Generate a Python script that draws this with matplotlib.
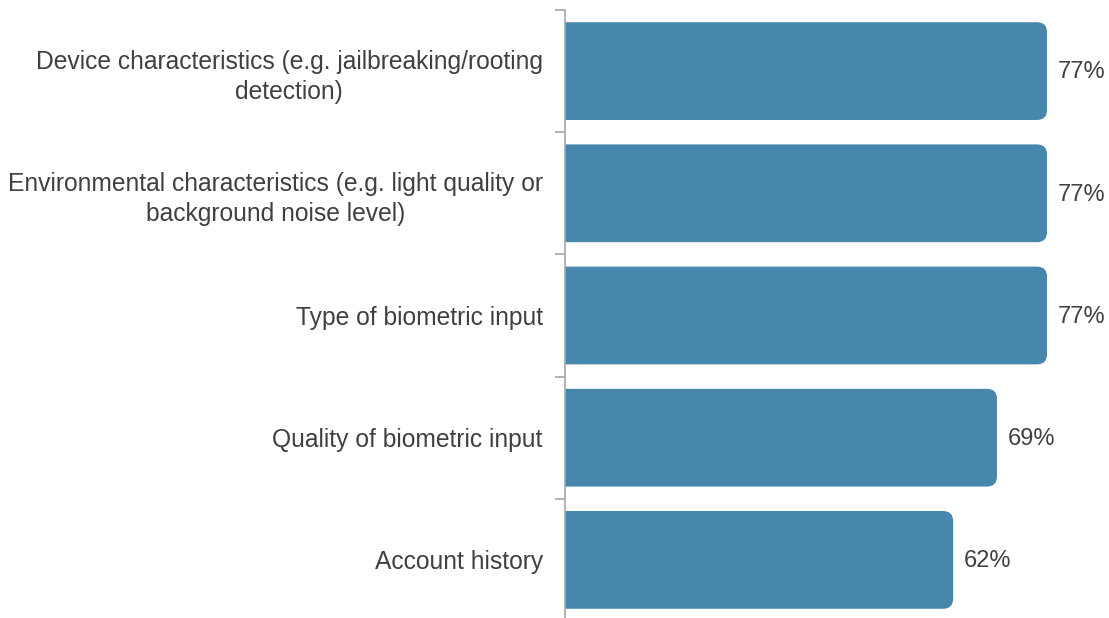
import numpy as np
import matplotlib.pyplot as plt
from matplotlib.patches import FancyBboxPatch

plt.rcParams['font.family'] = ['Liberation Sans', 'DejaVu Sans']

categories = ["Device characteristics (e.g. jailbreaking/rooting\ndetection)",
              "Environmental characteristics (e.g. light quality or\nbackground noise level)",
              "Type of biometric input",
              "Quality of biometric input",
              "Account history"]
values = [77, 77, 77, 69, 62]
labels = ["77%", "77%", "77%", "69%", "62%"]

bar_color = "#4787ad"
text_color = "#404040"
axis_color = "#a6a6a6"

fig = plt.figure(figsize=(11.09, 6.18), dpi=100)
ax = fig.add_axes([565 / 1109, -3 / 618, 544 / 1109, 611 / 618])

y = np.arange(len(categories))
bars = ax.barh(y, values, height=0.8, color=bar_color)

ax.set_xlim(0, 86.9)
ax.set_ylim(len(categories) - 0.5, -0.5)

# swap plain bars for ones with rounded right ends
px_x = 544 / 86.9          # pixels per unit on x
px_y = 611 / len(categories)  # pixels per unit on y
r = 10 / px_x
for b in bars:
    x0, y0 = b.get_x(), b.get_y()
    w, h = b.get_width(), b.get_height()
    b.set_visible(False)
    p = FancyBboxPatch((x0 - r, y0), w + r, h,
                       boxstyle="round,pad=0,rounding_size=%f" % r,
                       mutation_aspect=px_x / px_y,
                       facecolor=bar_color, edgecolor="none", clip_on=True)
    ax.add_patch(p)

for i, v in enumerate(values):
    ax.text(v + 11 / px_x, i + 0.01, labels[i], va="center", ha="left",
            fontsize=17, color=text_color)

ax.set_yticks(y)
ax.set_yticklabels(categories, fontsize=17.7, color=text_color, linespacing=1.35)
ax.set_yticks(np.arange(-0.5, len(categories)), minor=True)
ax.tick_params(axis="y", which="major", length=0, pad=16)
ax.tick_params(axis="y", which="minor", length=7, color=axis_color, width=1.2)
ax.set_xticks([])

for s in ["top", "right", "bottom"]:
    ax.spines[s].set_visible(False)
ax.spines["left"].set_color(axis_color)
ax.spines["left"].set_linewidth(1.2)

# multi-line labels centered within themselves
for t in ax.get_yticklabels():
    t.set_multialignment("center")

fig.savefig("out.png", dpi=100)
